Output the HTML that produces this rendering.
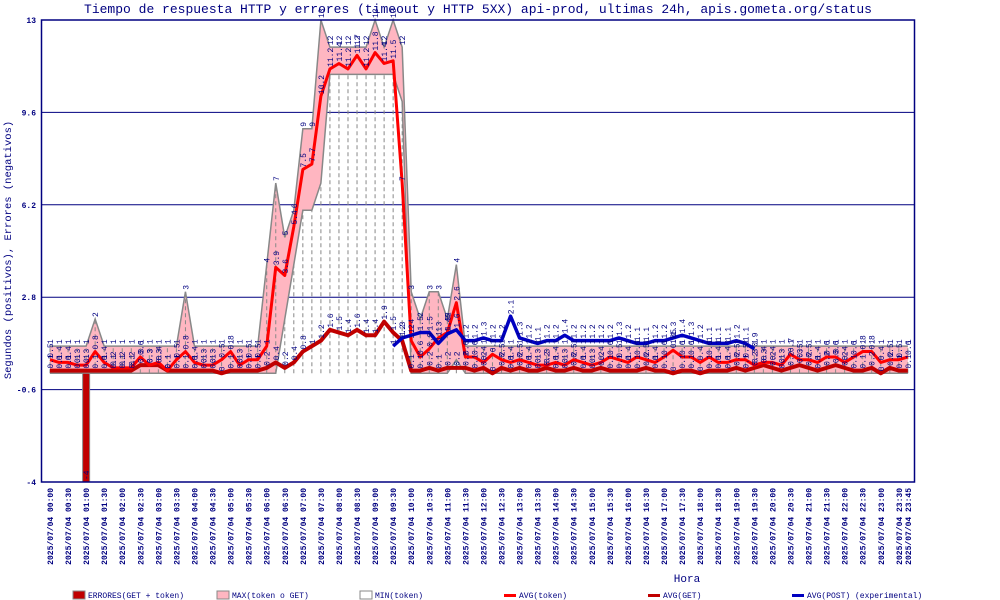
<!DOCTYPE html>
<html><head><meta charset="utf-8"><style>
html,body{margin:0;padding:0;background:#fff;}
svg{display:block;font-family:"Liberation Mono",monospace;}
</style></head><body>
<svg id="chart" width="1000" height="600" viewBox="0 0 1000 600" xmlns="http://www.w3.org/2000/svg">
<text x="478" y="13" text-anchor="middle" font-size="13" fill="#000080">Tiempo de respuesta HTTP y errores (timeout y HTTP 5XX) api-prod, ultimas 24h, apis.gometa.org/status</text>
<text transform="translate(11,250) rotate(-90)" text-anchor="middle" font-size="10.5" fill="#000080">Segundos (positivos), Errores (negativos)</text>
<text x="687" y="582" text-anchor="middle" font-size="11" fill="#000080">Hora</text>
<g id="grid"></g>
<g id="marks"></g>
<g id="labels"></g>
<g id="axes"></g>
<g id="legend"></g>
</svg>
<script>
const yTicks = [13, 9.6, 6.2, 2.8, -0.6, -4];
const errors = {4: -4};
const maxVals = [1,1,1,1,1,2,1,1,1,1,1,1,1,1,1,3,1,1,1,1,1,1,1,1,4,7,5,6,9,9,13,12,12,12,12,12,13,12,13,12,3,2,3,3,2,4,1,1,1,1,1,1,1,1,1,1,1,1,1,1,1,1,1,1,1,1,1,1,1,1,1,1,1,1,1,1,1,1,1,1,1,1,1,1,1,1,1,1,1,1,1,1,1,1,1,1];
const minVals = [0,0,0,0,0,0,0,0,0,0,0,0,0,0,0,0,0,0,0,0,0,0,0,0,0,0,2,4,6,6,7,11,11,11,11,11,11,11,11,10,0,0,0,0,0,0.5,0,0,0,0,0,0,0,0,0,0,0,0,0,0,0,0,0,0,0,0,0,0,0,0,0,0,0,0,0,0,0,0,0,0,0,0,0,0,0,0,0,0,0,0,0,0,0,0,0,0];
const avgToken = [0.5,0.4,0.4,0.3,0.3,0.8,0.4,0.2,0.2,0.2,0.6,0.3,0.4,0.1,0.5,0.8,0.4,0.3,0.3,0.5,0.8,0.3,0.5,0.5,1.0,3.9,3.6,5.4,7.5,7.7,10.2,11.2,11.4,11.2,11.7,11.2,11.8,11.4,11.5,7,1.2,0.6,0.9,1.3,1.5,2.6,0.6,0.6,0.4,0.7,0.5,0.4,0.5,0.4,0.3,0.3,0.4,0.3,0.5,0.4,0.3,0.4,0.6,0.5,0.4,0.6,0.5,0.4,0.6,0.85,0.6,0.6,0.4,0.6,0.4,0.4,0.5,0.5,0.3,0.4,0.4,0.3,0.7,0.5,0.5,0.4,0.6,0.6,0.4,0.6,0.8,0.8,0.4,0.5,0.5,0.6];
const avgGet = [0.1,0.1,0.1,0.1,0.1,0.1,0.1,0.1,0.1,0.1,0.3,0.3,0.3,0.1,0.1,0.1,0.1,0.1,0.1,0.0,0.1,0.1,0.1,0.1,0.2,0.4,0.2,0.4,0.8,1.0,1.2,1.6,1.5,1.4,1.6,1.4,1.4,1.9,1.5,1.2,0.1,0.1,0.2,0.1,0.2,0.2,0.2,0.1,0.2,0.0,0.2,0.1,0.2,0.1,0.1,0.2,0.1,0.1,0.2,0.1,0.1,0.2,0.1,0.1,0.1,0.1,0.2,0.1,0.1,0.0,0.1,0.1,0.0,0.1,0.1,0.1,0.2,0.1,0.2,0.3,0.2,0.1,0.2,0.3,0.2,0.1,0.2,0.3,0.2,0.1,0.1,0.2,0.0,0.2,0.1,0.1];
const avgPost = {38:1.0,39:1.3,40:1.4,41:1.5,42:1.5,43:1.1,44:1.45,45:1.6,46:1.2,47:1.2,48:1.3,49:1.2,50:1.2,51:2.1,52:1.3,53:1.2,54:1.1,55:1.2,56:1.2,57:1.4,58:1.2,59:1.2,60:1.2,61:1.2,62:1.2,63:1.3,64:1.2,65:1.1,66:1.1,67:1.2,68:1.2,69:1.3,70:1.4,71:1.3,72:1.2,73:1.1,74:1.1,75:1.1,76:1.2,77:1.1,78:0.9};
const hourLabels = [];
for (let h = 0; h < 24; h++) { hourLabels.push((h<10?'0':'')+h+':00'); hourLabels.push((h<10?'0':'')+h+':30'); }
hourLabels.push('23:45');

const NS = 'http://www.w3.org/2000/svg';
const L = 41.5, R = 914.5, T = 20, B = 482;
function x(i){ return 50 + i*9.03; }
function y(v){ return B - (v - (-4)) * (B - T) / 17; }
function el(tag, attrs, parent){ const e = document.createElementNS(NS, tag); for (const k in attrs) e.setAttribute(k, attrs[k]); parent.appendChild(e); return e; }
const grid = document.getElementById('grid'), marks = document.getElementById('marks'), labels = document.getElementById('labels'), axes = document.getElementById('axes'), legend = document.getElementById('legend');
const N = maxVals.length;

yTicks.forEach(t => {
  const g = el('line', {x1:L, x2:R, y1:y(t), y2:y(t), stroke:'#000080', 'stroke-width':1}, grid);
  
  
  const tx = el('text', {x:36, y:y(t)+3, 'text-anchor':'end', 'font-size':8, 'font-weight':'bold', fill:'#000080'}, axes);
  
  
  tx.textContent = String(t);
});

// max band (pink between min and max)
let band = '';
for (let i = 0; i < N; i++) band += (i?'L':'M') + x(i) + ',' + y(maxVals[i]);
for (let i = N-1; i >= 0; i--) band += 'L' + x(i) + ',' + y(minVals[i]);
const bp = el('path', {d: band + 'Z', fill:'#ffb6c1', stroke:'none'}, marks);


// dashed vertical lines
for (let i = 0; i < N; i++) {
  const top = minVals[i] > 0 ? minVals[i] : maxVals[i];
  const d = el('line', {x1:x(i), x2:x(i), y1:y(0), y2:y(top), stroke:'#888', 'stroke-width':1, 'stroke-dasharray':'4,3'}, marks);
  
  
}
let mx = '', mn = '';
for (let i = 0; i < N; i++) { mx += (i?'L':'M') + x(i) + ',' + y(maxVals[i]); mn += (i?'L':'M') + x(i) + ',' + y(minVals[i]); }
const mxl = el('path', {d: mx, fill:'none', stroke:'#888', 'stroke-width':1.5}, marks);


const mnl = el('path', {d: mn, fill:'none', stroke:'#888', 'stroke-width':1.5}, marks);



// error bars
for (const k in errors) {
  const i = +k, v = errors[k];
  const b = el('rect', {x:x(i)-3.5, y:y(0), width:7, height:y(v)-y(0), fill:'#c00000', stroke:'#888', 'stroke-width':1}, marks);
  
  
}

function line(vals, color, w, name){
  let d = '';
  vals.forEach((v,i) => { d += (i?'L':'M') + x(i) + ',' + y(v); });
  const p = el('path', {d, fill:'none', stroke:color, 'stroke-width':w, 'stroke-linejoin':'round'}, marks);
  
  
}
line(avgGet, '#c00000', 4, 'avg-get-line');
line(avgToken, '#ff0000', 3, 'avg-token-line');
let pd = '', first = true;
for (const k in avgPost) { pd += (first?'M':'L') + x(+k) + ',' + y(avgPost[k]); first = false; }
const pl = el('path', {d: pd, fill:'none', stroke:'#0000c0', 'stroke-width':3.5, 'stroke-linejoin':'round'}, marks);



// value labels
function vlab(i, v, name){
  const t = el('text', {transform:'translate(' + (x(i)+3) + ',' + (y(v)-2) + ') rotate(-90)', 'font-size':8, fill:'#000080'}, labels);
  
  
  t.textContent = String(v);
}
for (let i = 0; i < N; i++) {
  vlab(i, maxVals[i], 'max-value-label');
  vlab(i, avgToken[i], 'avg-token-value-label');
  vlab(i, avgGet[i], 'avg-get-value-label');
}
for (const k in avgPost) vlab(+k, avgPost[k], 'avg-post-value-label');
for (const k in errors) vlab(+k, errors[k] + 0, 'error-value-label');

// axes frame
const fr = el('rect', {x:L, y:T, width:R-L, height:B-T, fill:'none', stroke:'#000080', 'stroke-width':1.5}, axes);



// x labels
hourLabels.forEach((lab, j) => {
  const i = j < 48 ? j*2 : 95;
  const t = el('text', {transform:'translate(' + (x(i)+3) + ',488) rotate(-90)', 'text-anchor':'end', 'font-size':8, 'font-weight':'bold', fill:'#000080'}, axes);
  
  
  t.textContent = '2025/07/04 ' + lab;
});

// legend
const legItems = [
  {x:73, type:'box', fill:'#c00000', label:'ERRORES(GET + token)', name:'legend-errors'},
  {x:217, type:'box', fill:'#ffb6c1', label:'MAX(token o GET)', name:'legend-max'},
  {x:360, type:'box', fill:'#ffffff', label:'MIN(token)', name:'legend-min'},
  {x:504, type:'line', fill:'#ff0000', label:'AVG(token)', name:'legend-avg-token'},
  {x:648, type:'line', fill:'#c00000', label:'AVG(GET)', name:'legend-avg-get'},
  {x:792, type:'line', fill:'#0000c0', label:'AVG(POST) (experimental)', name:'legend-avg-post'}
];
legItems.forEach(it => {
  const g = el('g', {}, legend);
  
  
  if (it.type === 'box') el('rect', {x:it.x, y:591, width:12, height:8, fill:it.fill, stroke:'#888', 'stroke-width':1}, g);
  else el('rect', {x:it.x, y:594, width:12, height:3, fill:it.fill}, g);
  const t = el('text', {x:it.x+15, y:598, 'font-size':8, fill:'#000080'}, g);
  t.textContent = it.label;
});
</script>
</body></html>
